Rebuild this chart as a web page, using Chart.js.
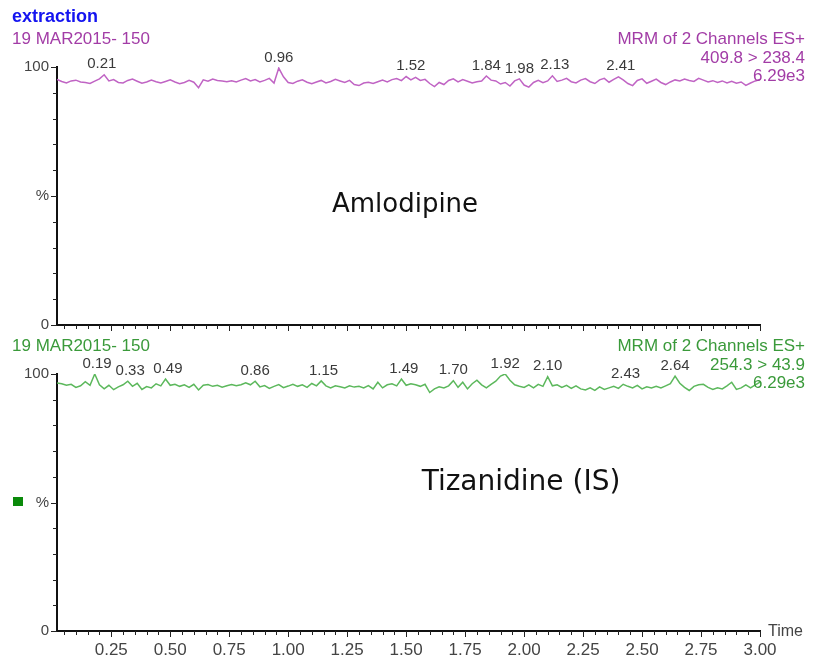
<!DOCTYPE html>
<html>
<head>
<meta charset="utf-8">
<script src="https://cdn.jsdelivr.net/npm/chart.js@4.4.1/dist/chart.umd.min.js"></script>
<style>
  html, body { margin: 0; padding: 0; background: #fff; }
  body { width: 815px; height: 659px; position: relative; overflow: hidden; font-family: "Liberation Sans", Arial, sans-serif; }
  canvas { position: absolute; left: 0; }
  .txt { position: absolute; line-height: 1; white-space: nowrap; font-size: 17px; }
  .purple { color: #a23ca6; }
  .green { color: #3a9a3a; }
  .r { right: 10px; text-align: right; }
  .compound { position: absolute; line-height: 1; font-family: "Comic Sans MS", "DejaVu Sans", sans-serif; font-size: 26px; color: #111; transform: translateX(-50%); }
</style>
</head>
<body>
<canvas id="topChart" width="815" height="340" style="top:0"></canvas>
<canvas id="bottomChart" width="815" height="319" style="top:340px"></canvas>

<div class="txt" style="left:12px;top:7px;font-weight:bold;font-size:18px;color:#1414f0">extraction</div>
<div class="txt purple" style="left:12px;top:30px">19 MAR2015- 150</div>
<div class="txt purple r" style="top:30px">MRM of 2 Channels ES+</div>
<div class="txt purple r" style="top:49px">409.8 &gt; 238.4</div>
<div class="txt purple r" style="top:67px">6.29e3</div>

<div class="txt green" style="left:12px;top:337px">19 MAR2015- 150</div>
<div class="txt green r" style="top:337px">MRM of 2 Channels ES+</div>
<div class="txt green r" style="top:356px">254.3 &gt; 43.9</div>
<div class="txt green r" style="top:374px">6.29e3</div>

<div class="txt" style="left:768px;top:623px;font-size:16px;color:#444">Time</div>
<div style="position:absolute;left:13px;top:497px;width:10px;height:9px;background:#0a8a0a"></div>

<div class="compound" style="left:405px;top:190px">Amlodipine</div>
<div class="compound" style="left:521px;top:467px;font-size:28px">Tizanidine (IS)</div>

<script>
// % intensity, one value per scan (0.02 min apart, first scan at 0.02 min)
const amlodipineSignal = [
  95.2, 94.4, 93.8, 94.6, 94.9, 94.2, 94.0, 93.6, 94.5, 95.4,
  97.0, 94.6, 95.1, 94.0, 93.8, 94.8, 95.3, 94.5, 93.7, 94.2,
  94.9, 94.3, 93.8, 94.4, 95.0, 94.2, 93.5, 94.0, 94.8, 94.1,
  92.0, 95.0, 94.5, 95.3, 94.8, 94.6, 94.3, 94.7, 94.2, 94.9,
  95.5, 94.6, 95.1, 94.2, 94.8, 95.6, 93.8, 99.6, 96.2, 94.0,
  93.6, 94.5, 95.0, 94.1, 93.5, 94.2, 94.8, 93.8, 94.4, 95.2,
  94.6, 94.0, 94.8, 93.2, 92.8, 93.8, 94.1, 93.6, 94.3, 94.9,
  94.2, 95.1, 95.5, 94.7, 96.3, 95.0, 96.0, 94.8, 95.2, 93.6,
  92.4, 94.0, 93.2, 94.8, 95.4, 94.2, 95.1, 94.5, 93.8, 94.3,
  94.6, 96.5, 94.9, 94.6, 93.4, 94.0, 92.6, 94.6, 95.4, 93.0,
  92.2, 94.0, 94.8, 93.9, 94.6, 96.6, 94.4, 94.9, 95.6, 94.3,
  93.8, 94.9, 95.5, 94.3, 93.6, 95.0, 95.6, 94.1, 95.2, 96.2,
  95.0, 93.6, 92.8, 94.8, 95.4, 93.7, 94.5, 95.3, 94.0, 93.2,
  94.2, 95.0, 94.6, 95.3, 94.8, 94.4, 95.6, 94.9, 94.2, 94.7,
  94.0, 94.6, 93.8, 94.5, 93.7, 94.2, 92.9, 93.8, 94.6, 95.2
];
const tizanidineSignal = [
  96.5, 96.2, 95.6, 96.0, 94.8, 95.4, 97.0, 95.6, 100.0, 95.8,
  94.2, 95.6, 93.9, 95.0, 95.8, 97.2, 95.2, 96.4, 94.0, 95.1,
  94.6, 96.2, 95.4, 98.0, 95.6, 96.0, 95.2, 95.8, 94.8, 96.0,
  93.8, 95.6, 95.9, 95.2, 95.6, 94.9, 95.4, 95.9, 95.4, 95.8,
  96.6, 95.8, 97.2, 95.0, 95.5, 94.4, 95.2, 95.9, 94.7, 95.3,
  96.0, 95.2, 95.8, 94.8, 96.3, 95.4, 97.3, 95.4, 94.6, 95.4,
  95.0, 94.6, 95.4, 94.9, 95.2, 94.6, 95.5, 94.2, 96.8, 94.6,
  95.8, 96.2, 95.4, 98.0, 95.6, 96.2, 95.8, 95.2, 96.0, 92.8,
  94.2, 95.0, 94.6, 95.4, 97.4, 94.8, 96.8, 94.2, 96.2, 97.6,
  95.8, 94.6, 96.0, 97.2, 99.2, 100.0, 97.6, 95.8, 95.2, 94.8,
  95.8, 94.6, 96.0, 95.2, 99.0, 95.4, 95.8, 94.8, 95.6, 94.4,
  95.4, 94.2, 93.8, 94.6, 93.6, 95.0, 94.0, 94.6, 95.2, 94.4,
  96.0, 95.2, 94.6, 95.6, 94.2, 95.0, 94.6, 95.2, 94.6, 95.4,
  96.2, 99.2, 96.4, 94.8, 93.6, 95.2, 95.8, 96.0, 94.8, 94.0,
  94.6, 94.2, 95.4, 96.8, 94.0, 94.6, 95.8, 94.6, 95.8, 96.8
];
const amlodipinePeaks = [0.21, 0.96, 1.52, 1.84, 1.98, 2.13, 2.41];
const tizanidinePeaks = [0.19, 0.33, 0.49, 0.86, 1.15, 1.49, 1.70, 1.92, 2.10, 2.43, 2.64];
const yTicks = [0, 10, 20, 30, 40, 50, 60, 70, 80, 90, 100];
const timeMin = 0.02, timeMax = 3.00, scanStep = 0.02;

const toPoints = signal => signal.map((v, i) => ({ x: +(scanStep * (i + 1)).toFixed(2), y: v }));

const peakLabels = {
  id: 'peakLabels',
  afterDatasetsDraw(chart, args, opts) {
    const { ctx, scales: { x, y } } = chart;
    const pts = chart.data.datasets[0].data;
    ctx.save();
    ctx.font = '15px "Liberation Sans", Arial, sans-serif';
    ctx.fillStyle = '#3a3a3a';
    ctx.textAlign = 'center';
    ctx.textBaseline = 'bottom';
    opts.times.forEach(t => {
      let best = null;
      pts.forEach(p => {
        if (Math.abs(p.x - t) <= 0.021 && (!best || p.y > best.y)) best = p;
      });
      ctx.fillText(t.toFixed(2), x.getPixelForValue(t), y.getPixelForValue(best.y) - 3);
    });
    ctx.restore();
  }
};

const axisTicks = {
  id: 'axisTicks',
  afterDraw(chart) {
    const { ctx, chartArea, scales: { x, y } } = chart;
    ctx.save();
    ctx.strokeStyle = '#222';
    ctx.lineWidth = 1;
    ctx.beginPath();
    y.ticks.forEach(tk => {
      const py = Math.round(y.getPixelForValue(tk.value)) + 0.5;
      const len = tk.value % 50 === 0 ? 6 : 4;
      ctx.moveTo(chartArea.left - len, py);
      ctx.lineTo(chartArea.left, py);
    });
    x.ticks.forEach(tk => {
      const px = Math.round(x.getPixelForValue(tk.value)) + 0.5;
      const major = Math.round(tk.value * 100) % 25 === 0;
      ctx.moveTo(px, chartArea.bottom);
      ctx.lineTo(px, chartArea.bottom + (major ? 6 : 4));
    });
    ctx.stroke();
    ctx.restore();
  }
};

function makeChart(id, signal, peaks, color, opt) {
  return new Chart(document.getElementById(id), {
    type: 'line',
    data: {
      datasets: [{
        data: toPoints(signal),
        borderColor: color,
        borderWidth: 1.5,
        pointRadius: 0,
        tension: 0,
        fill: false
      }]
    },
    options: {
      responsive: false,
      animation: false,
      events: [],
      layout: { padding: { top: opt.top, right: 55, left: 0, bottom: 0 } },
      plugins: {
        legend: { display: false },
        tooltip: { enabled: false },
        peakLabels: { times: peaks }
      },
      scales: {
        x: {
          type: 'linear',
          min: timeMin,
          max: timeMax,
          grid: { display: false },
          border: { display: true, color: '#111', width: 2 },
          afterBuildTicks: scale => {
            const ticks = [];
            for (let k = 5; k <= 300; k += 5) ticks.push({ value: k / 100 });
            scale.ticks = ticks;
          },
          afterFit: scale => { scale.height = opt.xHeight; },
          ticks: {
            display: opt.xLabels,
            autoSkip: false,
            maxRotation: 0,
            padding: 1,
            color: '#444',
            font: { family: '"Liberation Sans", Arial, sans-serif', size: 17 },
            callback: v => (Math.round(v * 100) % 25 === 0 ? v.toFixed(2) : '')
          }
        },
        y: {
          min: 0,
          max: 100,
          grid: { display: false },
          border: { display: true, color: '#111', width: 2 },
          afterBuildTicks: scale => { scale.ticks = yTicks.map(v => ({ value: v })); },
          afterFit: scale => { scale.width = 57; },
          ticks: {
            padding: 0,
            color: '#444',
            font: { family: '"Liberation Sans", Arial, sans-serif', size: 15 },
            callback: v => (v === 100 ? '100' : v === 50 ? '%' : v === 0 ? '0' : '')
          }
        }
      }
    },
    plugins: [peakLabels, axisTicks]
  });
}

makeChart('topChart', amlodipineSignal, amlodipinePeaks, '#c064c4', { top: 67, xHeight: 15, xLabels: false });
makeChart('bottomChart', tizanidineSignal, tizanidinePeaks, '#5cb85c', { top: 34, xHeight: 28, xLabels: true });
</script>
</body>
</html>
